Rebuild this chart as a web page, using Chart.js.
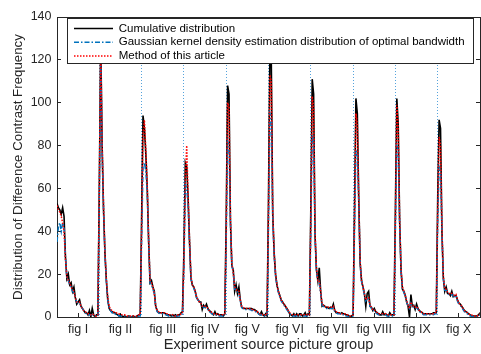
<!DOCTYPE html>
<html><head><meta charset="utf-8">
<script src="https://cdn.jsdelivr.net/npm/chart.js@4/dist/chart.umd.min.js"></script>
<style>html,body{margin:0;padding:0;background:#fff;}</style>
</head><body>
<canvas id="c" width="481" height="354"></canvas>
<script>
const groupLabels = ['fig I','fig II','fig III','fig IV','fig V','fig VI','fig VII','fig VIII','fig IX','fig X'];
const pointsPerGroup = 30;
const yTickValues = [0,20,40,60,80,100,120,140];
const seriesNames = ['Cumulative distribution','Gaussian kernel density estimation distribution of optimal bandwidth','Method of this article'];
const xTitle = 'Experiment source picture group';
const yTitle = 'Distribution of Difference Contrast Frequency';

const cumulative = [
 53,51,50,48,51,47,28,18,20,15,16,12,14,9,6,7,8,5,4,3,2,2,1,3,0,4,1,0,1,1,
 60,130,80,50,30,17,8,4,3,2.5,2,2,1.5,1,0.5,1,0.5,0,0.5,0,0,0.5,0,0,0.5,0,0,0.5,1,1,
 45,94,88,76,60,35,16,17,14,12,5,3,2,2,2,2,2,1.5,1,1,1,0.5,1,0.5,1,0.5,1,1,2,2.5,
 30,72,70,55,35,18,15,14,12,9,8,7,7,3.5,5.5,4.5,6,4,3,2.5,1.5,1,2.5,1,1.5,1,1,1,0.5,1.5,
 45,108,104,45,24,22,12,15,11,14,8,4.5,4,4,4,4,4,4,4,3.5,3.5,3,2.5,1.5,1,2.5,1,0.5,1.5,0.5,
 55,125,118,48,30,20,15,12,10,8,7,6,5,4,3,1.5,1,0.5,1.5,0.5,1.5,0.5,1.5,1.5,0.5,1,2,0.5,1.5,1,
 50,111,104,38,22,17,23,12,5,5.5,5,4.5,4.5,4,4.5,4,6,3,2,2,2,1.5,2,1.5,1.5,1,1,0.5,0,0.5,
 1,50,102,95,55,25,17,14,11,5,11,12,5,4.5,3,4,2.5,2,1.5,1,1,2.5,1,1.5,1,0.5,2,1,1,1,
 50,102,90,45,22,13,12,10,7,5,0,10.5,5,5.5,3.5,6,4,3,2.5,2,1.5,1.5,1.5,1.5,1.5,1.5,1.5,2,2,2,
 55,92,88,40,18,12,14,11,11,10,12,9.5,10,10,8,6.5,6,5,4,3,2.5,2,1.5,1,0.5,0.5,0.5,0.5,0.5,1,2
];
const gaussianKde = [
 35,42,44,40,44,42,28,18,17,15,14,12,11,9,7,6.5,6.5,5,4,3,2,1.5,1,1,1,1,0.5,0.5,0.5,0.5,
 55,122,78,50,29,17,8,4,3,2,1.5,1.5,1,1,0.5,0.5,0.5,0,0,0,0,0,0,0,0,0,0,0,0.5,0.5,
 35,70,72,68,58,35,16,15,13,11,5,2.5,2,1.5,1.5,1.5,1.5,1,1,0.5,0.5,0.5,0.5,0.5,0.5,0.5,0.5,0.5,1,1.5,
 22,62,60,52,34,18,15,13.5,11.5,9,8,7,6.5,5,4.5,4.5,4.5,3.5,2.5,2,1.5,1,1,1,0.5,0.5,0.5,0.5,0.5,1,
 35,82,80,44,24,21,13,13,12,11,7.5,4.5,4,3.5,3.5,3.5,3.5,3.5,3,3,2.5,2.5,2,1.5,1,1,0.5,0.5,0.5,0.5,
 42,95,92,47,29,19,14.5,11.5,9.5,7.5,6.5,5.5,4.5,3.5,2.5,1.5,1,0.5,0.5,0.5,0.5,0.5,0.5,0.5,0.5,0.5,0.5,0.5,0.5,0.5,
 40,85,82,38,22,16.5,16,11,5.5,5,4.5,4,4,4,4,4,4.5,2.5,2,1.5,1.5,1.5,1,1,1,0.5,0.5,0,0,0,
 0.5,40,78,76,54,25,16.5,13.5,10.5,7.5,8.5,8.5,5,4,3,3,2,1.5,1,1,1,1,1,1,0.5,0.5,0.5,0.5,0.5,0.5,
 40,80,78,44,21,13,11.5,9.5,7,5,4,6.5,5,4.5,4,4.5,3.5,2.5,2,1.5,1,1,1,1,1,1,1,1,1.5,1.5,
 44,70,68,40,18,12.5,12.5,11,10.5,10,10.5,10,9.5,10,7.5,6,5.5,4.5,3.5,2.5,2,1.5,1,0.5,0.5,0,0,0,0,0.5,1
];
const methodArticle = [
 52,50,49,47,44,40,27,19,17,16,14,13,12,9,7,7,7,5,4,3,2.5,2,1.5,1.5,1,1.5,1,0.5,0.5,1,
 60,128,82,52,30,18,9,5,3.5,3,2.5,2,2,1.5,1.5,1,1,1,1,0.5,0.5,0.5,0.5,0.5,0.5,0.5,0.5,0.5,1,1,
 40,86,92,78,62,36,17,16,14,11,5,3,2.5,2,2,2,2,1.5,1.5,1,1,1,1,0.5,0.5,0.5,1,1,1.5,2,
 25,65,80,57,36,19,15,14,12,9.5,8,7,6.5,5,5,5,5,4,3,2.5,2,1.5,1.5,1.5,1,1,1,1,1,1.5,
 40,100,98,46,25,21,14,13,12,12,8,5,4.5,4,4,4,4,4,3.5,3.5,3,3,2.5,2,1.5,1.5,1,1,1,1,
 50,113,110,50,30,20,15,12,10,8,7,6,5,4,3,2,1.5,1,1,1,1,1,1,1,1,1,1,1,1,1,
 45,103,98,40,23,17,17,12,6,5.5,5,4.5,4.5,4.5,4.5,4.5,5,3,2.5,2,2,2,1.5,1.5,1.5,1,1,0.5,0.5,0.5,
 1,45,95,90,56,26,17,14,11,8,9,9,5.5,4.5,3.5,3.5,2.5,2,1.5,1.5,1.5,1.5,1.5,1.5,1,1,1,1,1,1,
 45,99,88,46,22,14,12,10,7.5,5.5,4,7,5.5,5,4.5,5,4,3,2.5,2,1.5,1.5,1.5,1.5,1.5,1.5,1.5,1.5,2,2,
 50,84,80,42,19,13,13,11.5,11,10.5,11,10.5,10,10.5,8,6.5,6,5,4,3,2.5,2,1.5,1,1,0.5,0.5,0.5,0.5,1,1.5
];

const FONT = "'Liberation Sans', Arial, Helvetica, sans-serif";
const AX = '#262626';
Chart.defaults.font.family = FONT;
Chart.defaults.color = AX;

const xMax = groupLabels.length * pointsPerGroup;
const centerTicks = groupLabels.map((_, g) => g * pointsPerGroup + pointsPerGroup / 2);
const boundaryTicks = groupLabels.slice(1).map((_, g) => (g + 1) * pointsPerGroup);
const allXTicks = centerTicks.concat(boundaryTicks).sort((a, b) => a - b);
const isCenter = v => (v % pointsPerGroup) === pointsPerGroup / 2;
const toXY = arr => arr.map((v, i) => ({x: i, y: v}));

const legendFrame = {
  id: 'legendFrame',
  beforeUpdate(chart) {
    const lg = chart.legend;
    if (lg) lg._layers = () => [{z: 10, draw: (ca) => lg.draw(ca)}];
  },
  afterLayout(chart) {
    const lg = chart.legend, ca = chart.chartArea;
    if (!lg) return;
    lg.left = ca.left + 14.7;
    lg.top = ca.top + 3.4;
  },
  afterDatasetsDraw(chart) {
    const ca = chart.chartArea, ctx = chart.ctx;
    ctx.save();
    ctx.fillStyle = '#ffffff';
    ctx.strokeStyle = AX;
    ctx.lineWidth = 1;
    ctx.fillRect(ca.left + 10, ca.top + 1.5, 406, 45);
    ctx.strokeRect(ca.left + 10.5, ca.top + 1.5, 406, 45);
    ctx.restore();
  }
};

new Chart(document.getElementById('c'), {
  type: 'line',
  data: {
    datasets: [
      {label: seriesNames[0], data: toXY(cumulative), borderColor: '#000000', borderWidth: 1.6, pointRadius: 0, tension: 0, order: 3},
      {label: seriesNames[1], data: toXY(gaussianKde), borderColor: '#0072BD', borderWidth: 1.5, borderDash: [5, 2, 1.5, 2], pointRadius: 0, tension: 0, order: 2},
      {label: seriesNames[2], data: toXY(methodArticle), borderColor: '#FF0000', borderWidth: 1.5, borderDash: [1.5, 1.5], pointRadius: 0, tension: 0, order: 1}
    ]
  },
  options: {
    responsive: false,
    animation: false,
    devicePixelRatio: 1,
    layout: {padding: 0},
    plugins: {
      tooltip: {enabled: false},
      legend: {
        position: 'chartArea',
        align: 'start',
        labels: {
          usePointStyle: true, pointStyle: 'line', pointStyleWidth: 39,
          padding: 2.3, color: '#000000',
          font: {size: 11.5, family: FONT},
          sort: (a, b) => a.datasetIndex - b.datasetIndex,
          generateLabels: (chart) => {
            const items = Chart.defaults.plugins.legend.labels.generateLabels(chart);
            items.forEach(it => {
              const ds = chart.data.datasets[it.datasetIndex];
              it.lineDash = ds.borderDash || [];
              it.lineWidth = ds.borderWidth;
              it.strokeStyle = ds.borderColor;
            });
            return items;
          }
        }
      }
    },
    scales: {
      x: {
        type: 'linear', position: 'bottom', min: 0, max: xMax,
        afterBuildTicks: s => { s.ticks = allXTicks.map(v => ({value: v})); },
        afterFit: s => { s.height = 37; },
        ticks: {
          autoSkip: false, maxRotation: 0, minRotation: 0, padding: 9,
          font: {size: 12.5}, color: AX,
          callback: v => isCenter(v) ? groupLabels[(v - pointsPerGroup / 2) / pointsPerGroup] : ''
        },
        grid: {
          drawOnChartArea: true, drawTicks: true, tickLength: -4, lineWidth: 1,
          color: c => (c.tick && !isCenter(c.tick.value)) ? '#55a3dc' : 'rgba(0,0,0,0)',
          tickColor: c => (c.tick && isCenter(c.tick.value)) ? AX : 'rgba(0,0,0,0)',
          borderDash: [1, 2]
        },
        border: {display: true, color: AX, width: 1, dash: [1, 2]},
        title: {display: true, text: xTitle, color: AX, font: {size: 14.5}, padding: {top: 0, bottom: 0}}
      },
      x2: {
        type: 'linear', position: 'top', min: 0, max: xMax,
        afterBuildTicks: s => { s.ticks = centerTicks.map(v => ({value: v})); },
        afterFit: s => { s.height = 15; },
        ticks: {display: false},
        grid: {drawOnChartArea: false, drawTicks: true, tickLength: -4, tickColor: AX},
        border: {display: true, color: AX, width: 1}
      },
      y: {
        type: 'linear', position: 'left', min: 0, max: 140,
        afterBuildTicks: s => { s.ticks = yTickValues.map(v => ({value: v})); },
        afterFit: s => { s.width = 57; },
        ticks: {padding: 9.5, font: {size: 12.5}, color: AX},
        grid: {drawOnChartArea: false, drawTicks: true, tickLength: -4, tickColor: AX},
        border: {display: true, color: AX, width: 1},
        title: {display: true, text: yTitle, color: AX, font: {size: 13.3}, padding: {top: 10.6, bottom: 0}}
      },
      y2: {
        type: 'linear', position: 'right', min: 0, max: 140,
        afterBuildTicks: s => { s.ticks = yTickValues.map(v => ({value: v})); },
        afterFit: s => { s.width = 1; },
        ticks: {display: false},
        grid: {drawOnChartArea: false, drawTicks: true, tickLength: -4, tickColor: AX},
        border: {display: true, color: AX, width: 1}
      }
    }
  },
  plugins: [legendFrame]
});
</script>
</body></html>
